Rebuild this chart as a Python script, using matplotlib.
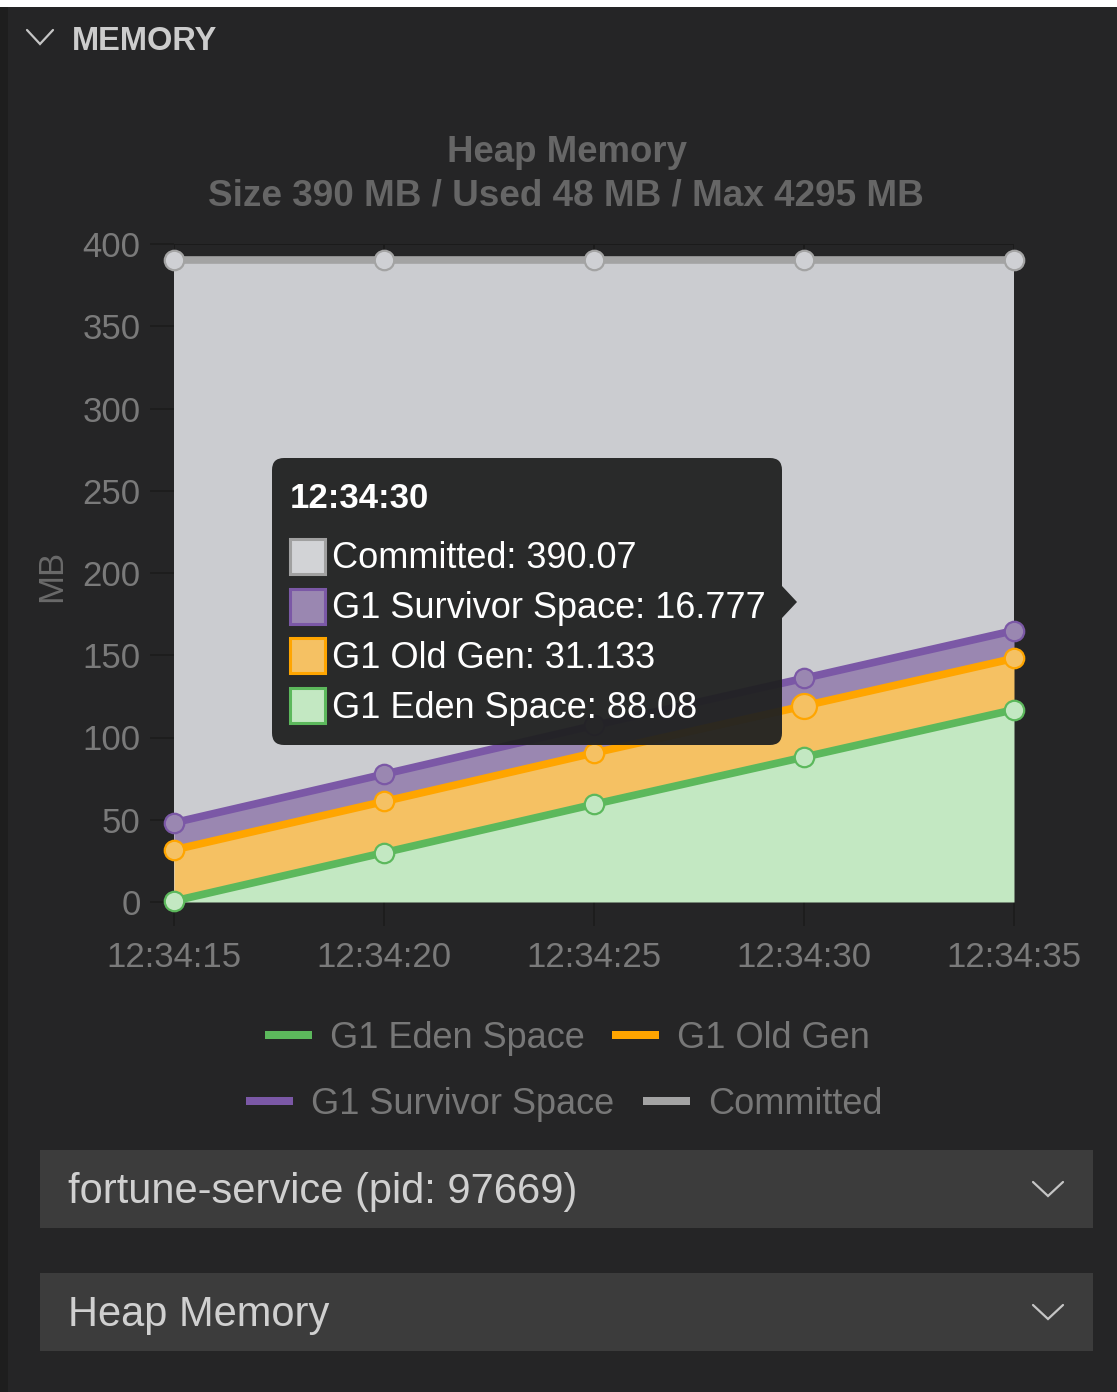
import numpy as np
import matplotlib.pyplot as plt
from matplotlib.patches import Rectangle, FancyBboxPatch, Polygon
from matplotlib.lines import Line2D
from matplotlib.transforms import IdentityTransform

W, H = 1117, 1392

times = ['12:34:15', '12:34:20', '12:34:25', '12:34:30', '12:34:35']
eden = [0.6, 30.0, 59.4, 88.08, 116.9]
old_gen = [31.1, 31.1, 31.2, 31.133, 31.2]
survivor = [16.5, 16.6, 16.7, 16.777, 16.9]
committed = [390.07, 390.07, 390.07, 390.07, 390.07]
hover = 3  # sample shown in the tooltip

plt.rcParams['font.family'] = ['Liberation Sans', 'DejaVu Sans']

BG = '#252526'
PX = IdentityTransform()

fig = plt.figure(figsize=(W / 100, H / 100), dpi=100, facecolor=BG)


def P(x, y):
    # screen pixel (top-left origin) -> display coords
    return x, H - y


def rect(x0, y0, x1, y1, **kw):
    fig.add_artist(Rectangle(P(x0, y1), x1 - x0, y1 - y0, transform=PX, **kw))


def text(x, y, s, **kw):
    # small downward nudge so the glyphs sit centred on y
    fig.text(x, H - y - 3, s, transform=PX, **kw)


def chevron(cx, cy, w=15, h=14, color='#c5c5c5'):
    xs = [cx - w, cx, cx + w]
    ys = [H - (cy - h / 2), H - (cy + h / 2), H - (cy - h / 2)]
    fig.add_artist(Line2D(xs, ys, transform=PX, color=color, lw=1.6,
                          solid_capstyle='round', solid_joinstyle='miter'))


# panel frame
rect(0, 0, W, 7, facecolor='white', lw=0)
rect(0, 7, 8, H, facecolor='#1e1e1e', lw=0)

# section header
chevron(40, 37, w=13, h=14)
text(72, 38, 'MEMORY', color='#cccccc', fontsize=23.5, fontweight='bold', va='center')

# chart titles
text(567, 150, 'Heap Memory', color='#666666', fontsize=26.4, fontweight='bold',
     ha='center', va='center')
text(566, 193, 'Size 390 MB / Used 48 MB / Max 4295 MB', color='#666666',
     fontsize=26.6, fontweight='bold', ha='center', va='center')

# stacked memory chart
ax = fig.add_axes([174 / W, 1 - 902 / H, (1014 - 174) / W, (902 - 244) / H])
ax.set_facecolor('none')
x = np.arange(len(times))
s1 = np.array(eden)
s2 = s1 + np.array(old_gen)
s3 = s2 + np.array(survivor)

ax.fill_between(x, 0, committed, color='#cbccd0', lw=0, zorder=1)
ax.fill_between(x, 0, s1, color='#c3e8c2', lw=0, zorder=2)
ax.fill_between(x, s1, s2, color='#f5c163', lw=0, zorder=2)
ax.fill_between(x, s2, s3, color='#9a87b1', lw=0, zorder=2)

series = [
    (committed, '#a3a3a3', '#cfd0d4'),
    (s3, '#7b58a6', '#9a87b1'),
    (s2, '#ffa500', '#f5c163'),
    (s1, '#5cb85c', '#c3e8c2'),
]
for ys, lc, fc in series:
    ax.plot(x, ys, color=lc, lw=5.5, marker='o', ms=14, mfc=fc, mec=lc,
            mew=1.6, zorder=3, clip_on=False)
ax.plot(x[hover], s2[hover], 'o', ms=18, mfc='#f5c163', mec='#ffa500',
        mew=1.6, zorder=4, clip_on=False)

ax.set_xlim(0, 4)
ax.set_ylim(0, 400)
ax.set_xticks(x)
ax.set_xticklabels(times)
ax.set_yticks(range(0, 401, 50))
ax.grid(True, color='#1b1b1b', lw=1.4)
ax.set_axisbelow(True)
ax.tick_params(length=17, width=1.1, color='#1b1b1b', labelcolor='#7a7a7a',
               labelsize=25)
ax.tick_params(axis='x', pad=11)
ax.tick_params(axis='y', pad=7)
for sp in ax.spines.values():
    sp.set_visible(False)
text(52, 573, 'MB', color='#6a6a6a', fontsize=25, rotation=90,
     ha='center', va='center')

# tooltip
tip_color = '#202121'
fig.add_artist(FancyBboxPatch(P(272, 745), 782 - 272, 745 - 458, transform=PX,
                              boxstyle='round,pad=0,rounding_size=12',
                              facecolor=tip_color, edgecolor='none', alpha=0.95,
                              zorder=10))
fig.add_artist(Polygon([P(782, 586), P(797, 602), P(782, 618)], closed=True,
                       transform=PX, facecolor=tip_color, edgecolor='none',
                       alpha=0.95, zorder=10))
text(290, 496, times[hover], color='white', fontsize=25, fontweight='bold',
     va='center', zorder=11)
rows = [
    ('Committed', committed[hover], '#a0a0a0', '#d2d3d6'),
    ('G1 Survivor Space', survivor[hover], '#7b58a6', '#9a87b1'),
    ('G1 Old Gen', old_gen[hover], '#ffa500', '#f5c163'),
    ('G1 Eden Space', eden[hover], '#5cb85c', '#c3e8c2'),
]
for i, (name, val, ec, fc) in enumerate(rows):
    yc = 556 + i * 49.7
    rect(290, yc - 17, 325, yc + 18, facecolor=fc, edgecolor=ec, lw=2.2, zorder=11)
    text(332, yc, f'{name}: {val:g}', color='white', fontsize=26,
         va='center', zorder=11)

# legend
legend_rows = [
    (1035, [(265, '#5cb85c', 'G1 Eden Space'), (612, '#ffa500', 'G1 Old Gen')]),
    (1101, [(246, '#7b58a6', 'G1 Survivor Space'), (643, '#a3a3a3', 'Committed')]),
]
for yc, items in legend_rows:
    for x0, c, label in items:
        rect(x0, yc - 4, x0 + 47, yc + 4, facecolor=c, lw=0)
        text(x0 + 65, yc, label, color='#777777', fontsize=26, va='center')

# process / view selectors
for (y0, y1), label in [((1150, 1228), 'fortune-service (pid: 97669)'),
                        ((1273, 1351), 'Heap Memory')]:
    rect(40, y0, 1093, y1, facecolor='#3c3c3c', lw=0)
    text(68, (y0 + y1) / 2, label, color='#d0d0d0', fontsize=30, va='center')
    chevron(1048, (y0 + y1) / 2, w=15, h=14)

fig.savefig('out.png', dpi=100, facecolor=BG)
